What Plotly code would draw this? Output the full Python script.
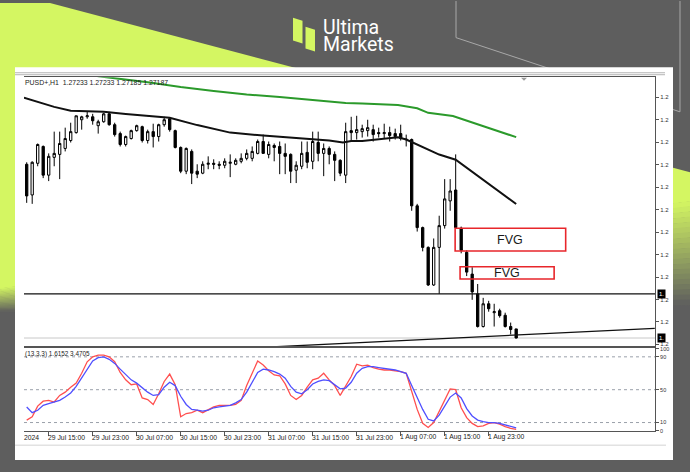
import plotly.graph_objects as go

W, H = 690, 472

# ---------------- data ----------------
bars = list(range(90))
opens = [1.28065, 1.2791, 1.2807, 1.28155, 1.2801, 1.281, 1.28115, 1.28145, 1.28185, 1.28225,
         1.2829, 1.28305, 1.28305, 1.2826, 1.2828, 1.2832, 1.28265, 1.2822, 1.28165, 1.28195,
         1.28235, 1.28255, 1.28185, 1.2823, 1.28205, 1.28265, 1.28295, 1.28235, 1.2815, 1.2803,
         1.2813, 1.2803, 1.2802, 1.28065, 1.2807, 1.28065, 1.2806, 1.2807, 1.28065, 1.2808,
         1.28095, 1.28095, 1.2812, 1.2818, 1.28115, 1.2816, 1.28155, 1.2812, 1.28115, 1.28035,
         1.28055, 1.28125, 1.2808, 1.28175, 1.2812, 1.28145, 1.28115, 1.28085, 1.2801, 1.28235,
         1.28225, 1.2823, 1.28235, 1.2824, 1.28225, 1.2822, 1.28225, 1.2822, 1.2822, 1.28192,
         1.2819, 1.27855, 1.27745, 1.27645, 1.27455, 1.27645, 1.27755, 1.2788, 1.27935, 1.27742,
         1.2762, 1.2751, 1.2741, 1.27245, 1.2736, 1.27315, 1.27325, 1.27302, 1.27245, 1.27233]
highs = [1.28075, 1.2808, 1.2817, 1.2816, 1.2812, 1.2823, 1.2823, 1.2825, 1.28275, 1.2831,
         1.2831, 1.2833, 1.2832, 1.2829, 1.28325, 1.2833, 1.28275, 1.2823, 1.2821, 1.2824,
         1.28265, 1.2826, 1.2824, 1.2827, 1.2827, 1.28305, 1.283, 1.2824, 1.28155, 1.2815,
         1.2814, 1.28065, 1.2808, 1.28105, 1.2809, 1.2808, 1.28095, 1.28115, 1.28095, 1.2812,
         1.2814, 1.28155, 1.2819, 1.28215, 1.2818, 1.2817, 1.2818, 1.2817, 1.2812, 1.2808,
         1.2818, 1.2818, 1.2823, 1.2823, 1.2817, 1.28155, 1.2813, 1.2809, 1.28275, 1.28305,
         1.2831, 1.28265, 1.2829, 1.28265, 1.2825, 1.2827, 1.28255, 1.28245, 1.28265, 1.28215,
         1.28195, 1.27865, 1.2775, 1.2765, 1.2769, 1.27805, 1.2799, 1.2799, 1.28115, 1.2775,
         1.2763, 1.27545, 1.2746, 1.2739, 1.27375, 1.2736, 1.27335, 1.27315, 1.27265, 1.27233]
lows = [1.2787, 1.27865, 1.28055, 1.27995, 1.2798, 1.28055, 1.2799, 1.2813, 1.28175, 1.2822,
        1.2824, 1.28295, 1.28265, 1.2822, 1.28275, 1.2826, 1.28205, 1.28155, 1.28155, 1.2819,
        1.2823, 1.28175, 1.2817, 1.2815, 1.2818, 1.28255, 1.2823, 1.28145, 1.2802, 1.28015,
        1.27965, 1.27995, 1.28015, 1.2804, 1.2804, 1.2804, 1.28045, 1.28, 1.2806, 1.2807,
        1.28085, 1.2808, 1.28115, 1.2812, 1.28095, 1.2808, 1.28015, 1.28015, 1.2797, 1.2797,
        1.2804, 1.28045, 1.2804, 1.2808, 1.28005, 1.28065, 1.2798, 1.28005, 1.2797, 1.2818,
        1.2819, 1.282, 1.28205, 1.2818, 1.282, 1.28195, 1.2818, 1.2819, 1.28185, 1.28155,
        1.2783, 1.27725, 1.27625, 1.2745, 1.2745, 1.2741, 1.2774, 1.2783, 1.2774, 1.27615,
        1.275, 1.2738, 1.2724, 1.2724, 1.2732, 1.27245, 1.2729, 1.2724, 1.27205, 1.27185]
closes = [1.27905, 1.28075, 1.28165, 1.2801, 1.28105, 1.2812, 1.2817, 1.28195, 1.2823, 1.2831,
          1.28305, 1.2831, 1.28285, 1.2828, 1.2832, 1.28265, 1.28215, 1.28165, 1.28205, 1.28235,
          1.2826, 1.28185, 1.2823, 1.28205, 1.28265, 1.2829, 1.2824, 1.2815, 1.2803, 1.28145,
          1.2802, 1.28015, 1.28065, 1.2807, 1.28065, 1.2806, 1.2808, 1.28075, 1.28085, 1.28095,
          1.2812, 1.2813, 1.2818, 1.2812, 1.28165, 1.2815, 1.2812, 1.28105, 1.2803, 1.2806,
          1.2812, 1.28075, 1.2818, 1.2812, 1.28145, 1.28115, 1.28085, 1.2802, 1.2823, 1.28225,
          1.2824, 1.28245, 1.2825, 1.28215, 1.2822, 1.28225, 1.2821, 1.28205, 1.28195, 1.2819,
          1.27855, 1.27745, 1.27645, 1.27455, 1.27645, 1.27755, 1.2789, 1.2793, 1.27745, 1.2763,
          1.2752, 1.2742, 1.27245, 1.2736, 1.27335, 1.2732, 1.273, 1.27245, 1.2723, 1.27187]

ma_fast_x = [-0.5, 5, 8, 14, 18, 22, 26, 31, 37, 43, 49, 55, 57.5, 59, 61, 67.5, 69, 73, 75, 78, 82, 89]
ma_fast = [1.28402, 1.28355, 1.28335, 1.2833, 1.28319, 1.28308, 1.283, 1.28263, 1.28225, 1.2821,
           1.28197, 1.28185, 1.28175, 1.28183, 1.28183, 1.28202, 1.2819, 1.28138, 1.28114, 1.28088,
           1.28005, 1.27864]
ma_slow_x = [10, 13, 22, 28, 34, 40, 46, 52, 58, 61, 67.5, 71, 73, 77.5, 82.5, 89]
ma_slow = [1.2853, 1.2851, 1.2848, 1.28455, 1.28435, 1.28418, 1.28405, 1.28389, 1.28375, 1.28372,
           1.28364, 1.28348, 1.28325, 1.28309, 1.28264, 1.28202]

stoch_main = [13, 17, 30, 36, 37, 35, 43, 47, 53, 58, 70, 84, 90, 92, 92, 90, 84, 71, 62, 56,
              57, 40, 38, 32, 45, 60, 69, 56, 17, 21, 22, 25, 22, 26, 29, 31, 31, 31, 32, 37,
              55, 70, 85, 80, 73, 68, 67, 57, 43, 38, 43, 53, 62, 64, 70, 62, 55, 43, 55, 66,
              81, 79, 80, 77, 75, 74, 74, 73, 72, 70, 48, 26, 9, 4, 10, 24, 38, 51, 50, 28,
              16, 9, 5, 6, 9, 10, 8, 5, 3, 1.6152]
stoch_signal = [29, 22, 25, 31, 33, 35, 37, 41, 46, 54, 64, 75, 85, 89, 90, 87, 82, 75, 69, 62,
                58, 52, 47, 43, 44, 53, 59, 55, 42, 32, 26, 25, 24, 25, 28, 29, 30, 31, 34, 38,
                47, 60, 71, 75, 74, 72, 69, 64, 54, 47, 45, 50, 57, 60, 62, 61, 56, 51, 52, 59,
                70, 76, 78, 78, 77, 76, 75, 74, 72, 70, 55, 40, 26, 14, 12, 19, 30, 41, 46, 40,
                27, 18, 13, 11, 10, 10, 9, 7, 5.5, 3.4705]
stoch_levels = [10, 50, 90]

support_level = 1.2741
bid_price = 1.27187
trend_x = [20, 114.2]
trend_y = [1.27109, 1.27236]

fvg_x0 = [77.9, 78.8]
fvg_x1 = [98.0, 95.9]
fvg_lo = [1.27627, 1.27485]
fvg_hi = [1.27742, 1.27547]
fvg_label = ["FVG", "FVG"]

time_ticks = [4, 12, 20, 28, 36, 44, 52, 60, 68, 76, 84]
time_labels = ["29 Jul 15:00", "29 Jul 23:00", "30 Jul 07:00", "30 Jul 15:00", "30 Jul 23:00",
               "31 Jul 07:00", "31 Jul 15:00", "31 Jul 23:00", "1 Aug 07:00", "1 Aug 15:00",
               "1 Aug 23:00"]
price_ticks = [1.27155, 1.27268, 1.27382, 1.27495, 1.27609, 1.27722, 1.27836, 1.2795,
               1.28063, 1.28176, 1.2829, 1.28403]
price_labels = ["1.2"] * len(price_ticks)
stoch_ticks = [0, 10, 50, 90, 100]
stoch_labels = ["0", "10", "50", "90", "100"]

title_text = "PUSD+,H1  1.27233 1.27233 1.27185 1.27187"
stoch_text = "(13,3,3) 1.6152 3.4705"

# ---------------- layout geometry (pixels) ----------------
def px(x):
    return x / W

def py(y):
    return 1 - y / H

LIME = (212, 246, 98)
GREY = (94, 94, 94)

def mix(t):
    c = [round(LIME[k] + (GREY[k] - LIME[k]) * t) for k in range(3)]
    return "rgb(%d,%d,%d)" % tuple(c)

def path(points):
    return "M " + " L ".join("%.5f,%.5f" % (px(a), py(b)) for a, b in points) + " Z"

shapes = []
# lime band below the diagonal, fading to grey along a slanted front
FL0, FL1 = 288, 312     # fade start/end at the left edge
FR0, FR1 = 200, 305     # fade start/end at the right edge
shapes.append(dict(type="path", xref="paper", yref="paper", layer="below", line=dict(width=0),
                   fillcolor=mix(0), path=path([(0, 0), (50, 0), (690, 171), (690, FR0 + 0.5), (0, FL0 + 0.5)])))
N = 20
for k in range(N):
    l0 = FL0 + (FL1 - FL0) * k / N
    l1 = FL0 + (FL1 - FL0) * (k + 1) / N
    r0 = FR0 + (FR1 - FR0) * k / N
    r1 = FR0 + (FR1 - FR0) * (k + 1) / N
    shapes.append(dict(type="path", xref="paper", yref="paper", layer="below", line=dict(width=0),
                       fillcolor=mix((k + 0.5) / N),
                       path=path([(0, l0), (690, r0), (690, r1 + 0.6), (0, l1 + 0.6)])))
shapes.append(dict(type="path", xref="paper", yref="paper", layer="below",
                   line=dict(color="#a8a8a8", width=1),
                   path="M %f,%f L %f,%f L %f,%f L %f,%f" % (px(456), py(-2), px(456), py(35),
                                                             px(680), py(110), px(680), py(-2))))
shapes.append(dict(type="rect", xref="paper", yref="paper", layer="below", line=dict(width=0),
                   fillcolor="white", x0=px(15), x1=px(673), y0=py(462), y1=py(65)))
for yy in (70.5, 72.5):
    shapes.append(dict(type="line", xref="paper", yref="paper", layer="below",
                       line=dict(color="#b4b4b4", width=1), x0=px(15), x1=px(665), y0=py(yy), y1=py(yy)))
shapes.append(dict(type="line", xref="paper", yref="paper", layer="below",
                   line=dict(color="#e2e2e2", width=1.5), x0=px(15), x1=px(666), y0=py(447), y1=py(447)))
shapes.append(dict(type="path", xref="paper", yref="paper", line=dict(width=0), fillcolor="#9a9a9a",
                   path=path([(521, 75.5), (527, 75.5), (524, 78.5)])))
shapes.append(dict(type="path", xref="paper", yref="paper", line=dict(width=0), fillcolor=mix(0),
                   path=path([(293, 15), (302.5, 18), (302.5, 41), (293, 38)])))
shapes.append(dict(type="path", xref="paper", yref="paper", line=dict(width=0), fillcolor=mix(0),
                   path=path([(305.5, 24), (315, 27), (315, 49), (305.5, 46)])))

shapes.append(dict(type="line", xref="x domain", yref="y", x0=0, x1=1, y0=support_level, y1=support_level,
                   line=dict(color="#111", width=1.3)))
shapes.append(dict(type="line", xref="x domain", yref="y", x0=0, x1=1, y0=bid_price, y1=bid_price,
                   layer="below", line=dict(color="#c8c8c8", width=1)))
for a, b, lo, hi in zip(fvg_x0, fvg_x1, fvg_lo, fvg_hi):
    shapes.append(dict(type="rect", xref="x", yref="y", x0=a, x1=b, y0=lo, y1=hi,
                       line=dict(color="#e8262b", width=1.6)))
for lv in stoch_levels:
    shapes.append(dict(type="line", xref="x2 domain", yref="y2", x0=0, x1=1, y0=lv, y1=lv, layer="below",
                       line=dict(color="#9aa0aa", width=1, dash="dot")))

MT4_FONT = "Liberation Sans"
annotations = [
    dict(xref="paper", yref="paper", x=px(321), y=py(25), text="Ultima", showarrow=False,
         xanchor="left", yanchor="middle", font=dict(family="Roboto", size=19.5, color="white")),
    dict(xref="paper", yref="paper", x=px(321), y=py(42), text="Markets", showarrow=False,
         xanchor="left", yanchor="middle", font=dict(family="Roboto", size=19.5, color="white")),
    dict(xref="paper", yref="paper", x=px(23), y=py(80), text=title_text, showarrow=False,
         xanchor="left", yanchor="middle", font=dict(family=MT4_FONT, size=6.9, color="#222")),
    dict(xref="paper", yref="paper", x=px(23), y=py(355), text=stoch_text, showarrow=False,
         xanchor="left", yanchor="middle", font=dict(family=MT4_FONT, size=6.4, color="#222")),
    dict(xref="paper", yref="paper", x=px(22), y=py(439), text="2024", showarrow=False,
         xanchor="left", yanchor="middle", font=dict(family=MT4_FONT, size=6.8, color="#222")),
]
for tv, tl in zip(time_ticks, time_labels):
    annotations.append(dict(xref="x2", yref="paper", x=tv, y=py(439), text=tl, showarrow=False,
                            xanchor="left", yanchor="middle", xshift=-3,
                            font=dict(family=MT4_FONT, size=6.8, color="#222")))
for lvl in (support_level, bid_price):
    annotations.append(dict(xref="paper", yref="y", x=px(656.5), y=lvl, text="1.", showarrow=False,
                            xanchor="left", yanchor="middle", bgcolor="black", borderpad=1,
                            font=dict(family=MT4_FONT, size=6, color="white")))
for a, b, lo, hi, lab in zip(fvg_x0, fvg_x1, fvg_lo, fvg_hi, fvg_label):
    annotations.append(dict(xref="x", yref="y", x=(a + b) / 2, y=(lo + hi) / 2, text=lab, showarrow=False,
                            xanchor="center", yanchor="middle",
                            font=dict(family=MT4_FONT, size=12.5, color="#1a1a1a")))

fig = go.Figure()
fig.add_trace(go.Candlestick(x=bars, open=opens, high=highs, low=lows, close=closes,
                             increasing=dict(line=dict(color="#000", width=1), fillcolor="#ffffff"),
                             decreasing=dict(line=dict(color="#000", width=1), fillcolor="#000000"),
                             whiskerwidth=0, hoverinfo="skip", xaxis="x", yaxis="y"))
fig.add_trace(go.Scatter(x=ma_slow_x, y=ma_slow, mode="lines", line=dict(color="#2b9a2b", width=2),
                         hoverinfo="skip", xaxis="x", yaxis="y"))
fig.add_trace(go.Scatter(x=ma_fast_x, y=ma_fast, mode="lines", line=dict(color="#111", width=2),
                         hoverinfo="skip", xaxis="x", yaxis="y"))
fig.add_trace(go.Scatter(x=trend_x, y=trend_y, mode="lines", line=dict(color="#111", width=1.3),
                         hoverinfo="skip", xaxis="x", yaxis="y"))
fig.add_trace(go.Scatter(x=bars, y=stoch_main, mode="lines", line=dict(color="#ff4f4f", width=1.3),
                         hoverinfo="skip", xaxis="x2", yaxis="y2"))
fig.add_trace(go.Scatter(x=bars, y=stoch_signal, mode="lines", line=dict(color="#4f4fff", width=1.3),
                         hoverinfo="skip", xaxis="x2", yaxis="y2"))

xr = [-0.49, 114.24]
fig.update_layout(
    width=W, height=H, margin=dict(l=0, r=0, t=0, b=0),
    paper_bgcolor="rgb(94,94,94)", plot_bgcolor="white", showlegend=False, boxgap=0.4,
    shapes=shapes, annotations=annotations,
    xaxis=dict(domain=[px(24), px(655)], range=xr, anchor="y", showgrid=False, zeroline=False,
               showticklabels=False, showline=True, mirror=True, linecolor="#555", linewidth=1,
               rangeslider=dict(visible=False), fixedrange=True),
    yaxis=dict(domain=[py(347), py(75)], range=[1.27145, 1.28505], anchor="x", side="right",
               showgrid=False, zeroline=False, showline=True, linecolor="#555", linewidth=1,
               ticks="outside", ticklen=3, tickcolor="#555", tickvals=price_ticks, ticktext=price_labels,
               tickfont=dict(family=MT4_FONT, size=6, color="#333"), fixedrange=True),
    xaxis2=dict(domain=[px(24), px(655)], range=xr, anchor="y2", showgrid=False, zeroline=False,
                showline=True, mirror=True, linecolor="#555", linewidth=1, ticks="outside", ticklen=4,
                tickcolor="#555", tickvals=time_ticks, showticklabels=False, fixedrange=True),
    yaxis2=dict(domain=[py(433), py(349)], range=[-0.8, 100.4], anchor="x2", side="right",
                showgrid=False, zeroline=False, showline=True, linecolor="#555", linewidth=1,
                ticks="outside", ticklen=3, tickcolor="#555", tickvals=stoch_ticks, ticktext=stoch_labels,
                tickfont=dict(family=MT4_FONT, size=5.5, color="#333"), fixedrange=True),
)

fig.write_html("out.html", config={"displayModeBar": False},
               post_script="document.body.style.margin='0px';document.body.style.overflow='hidden';")
